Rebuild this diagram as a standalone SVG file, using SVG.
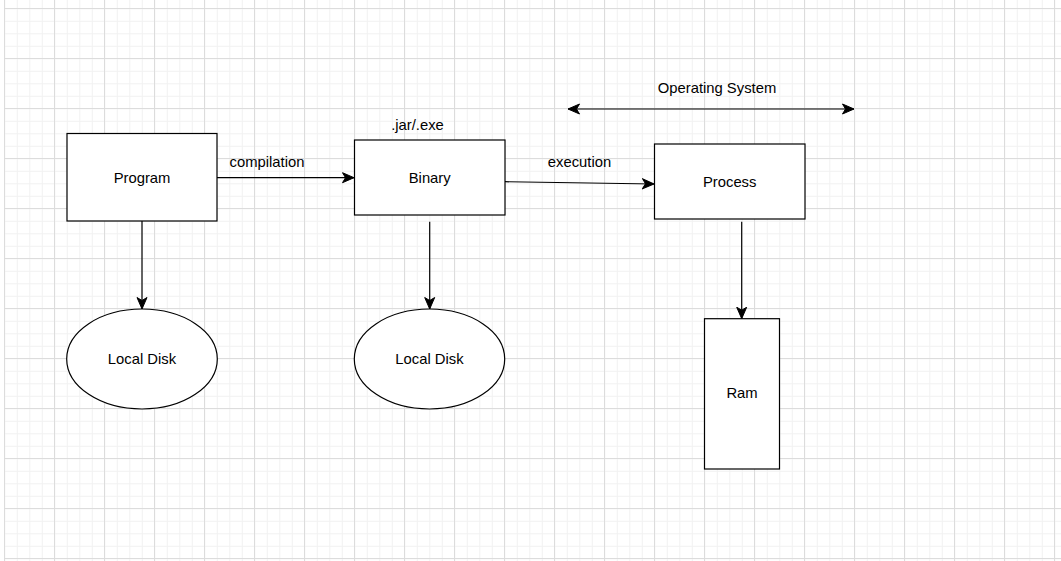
<svg xmlns="http://www.w3.org/2000/svg" width="1061" height="561" viewBox="0 0 1061 561">
<style>
.box{fill:#fff;stroke:#000;stroke-width:1.2}
.edge{fill:none;stroke:#000;stroke-width:1.2}
text{font-family:"Liberation Sans",Arial,sans-serif;font-size:14.8px;fill:#000;text-anchor:middle}
</style>
<defs>
<pattern id="minor" patternUnits="userSpaceOnUse" x="4.3" y="8.3" width="12.5" height="12.5">
<path d="M0.5 0V12.5M0 0.5H12.5" stroke="#f1f1f1" stroke-width="1" fill="none"/>
</pattern>
<pattern id="major" patternUnits="userSpaceOnUse" x="4" y="8" width="50" height="50">
<path d="M0.5 0V50M0 0.5H50" stroke="#dcdcdc" stroke-width="1" fill="none"/>
</pattern>
<marker id="arr" markerUnits="userSpaceOnUse" markerWidth="14" markerHeight="12" viewBox="-12 -6 14 12" refX="0" refY="0" orient="auto-start-reverse">
<path d="M0 0L-11.5 -5L-8.5 0L-11.5 5Z" fill="#000" stroke="#000" stroke-width="1"/>
</marker>
</defs>
<rect width="1061" height="561" fill="#fff"/>
<rect x="4" y="0" width="1057" height="561" fill="url(#minor)"/>
<rect x="4" y="0" width="1057" height="561" fill="url(#major)"/>
<g id="connectors">
<line class="edge" x1="217" y1="177.7" x2="354" y2="177.7" marker-end="url(#arr)"/>
<line class="edge" x1="505" y1="181.7" x2="654" y2="184" marker-end="url(#arr)"/>
<line class="edge" x1="568" y1="109" x2="854" y2="109" marker-start="url(#arr)" marker-end="url(#arr)"/>
<line class="edge" x1="142" y1="221" x2="142" y2="309" marker-end="url(#arr)"/>
<line class="edge" x1="429.7" y1="221.7" x2="429.7" y2="309" marker-end="url(#arr)"/>
<line class="edge" x1="741.7" y1="221.7" x2="741.7" y2="318.7" marker-end="url(#arr)"/>
<text x="267" y="167">compilation</text>
<text x="579.5" y="167">execution</text>
</g>
<g id="program"><rect class="box" x="67" y="133.5" width="150" height="87.5"/><text x="142" y="183">Program</text></g>
<g id="binary"><rect class="box" x="354.5" y="140" width="150.5" height="75"/><text x="429.7" y="183">Binary</text><text x="417.5" y="130">.jar/.exe</text></g>
<g id="process"><rect class="box" x="654.5" y="144" width="150.5" height="75"/><text x="729.7" y="187">Process</text></g>
<g id="os"><text x="717" y="93">Operating System</text></g>
<g id="disk1"><ellipse class="box" cx="142" cy="359" rx="75.3" ry="50"/><text x="142" y="364">Local Disk</text></g>
<g id="disk2"><ellipse class="box" cx="429.5" cy="359" rx="75.2" ry="50"/><text x="429.5" y="364">Local Disk</text></g>
<g id="ram"><rect class="box" x="704.5" y="318.7" width="75" height="150.3"/><text x="742" y="398">Ram</text></g>
</svg>
